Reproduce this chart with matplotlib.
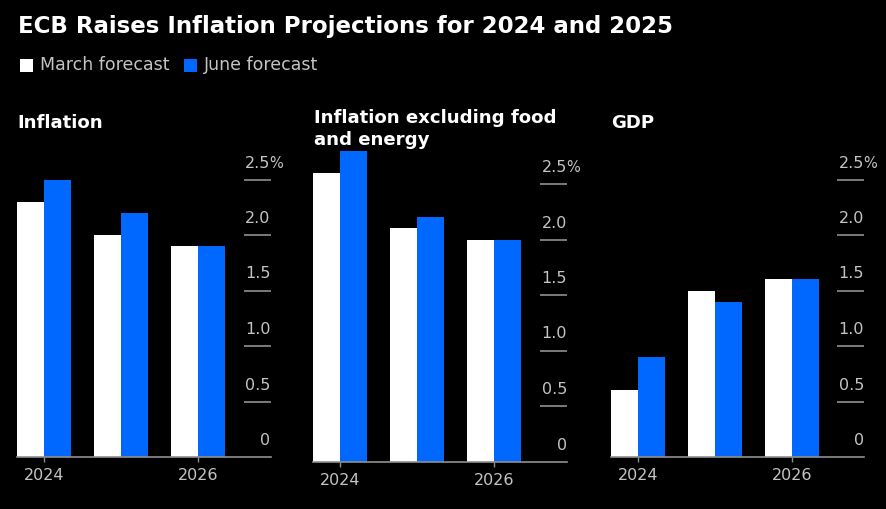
import matplotlib
matplotlib.use("Agg")
import matplotlib.pyplot as plt
from matplotlib.patches import Rectangle
from matplotlib.transforms import offset_copy

W, H = 886, 509
BG = "#000000"
WHITE = "#ffffff"
BLUE = "#0068ff"
GREY = "#8f8f8f"
LABEL = "#c4c4c4"

years = [2024, 2025, 2026]
panel_titles = ["Inflation", "Inflation excluding food\nand energy", "GDP"]
march_forecast = [[2.3, 2.0, 1.9], [2.6, 2.1, 2.0], [0.6, 1.5, 1.6]]
june_forecast = [[2.5, 2.2, 1.9], [2.8, 2.2, 2.0], [0.9, 1.4, 1.6]]
y_ticks = [0.5, 1.0, 1.5, 2.0, 2.5]
y_labels = ["0", "0.5", "1.0", "1.5", "2.0", "2.5"]
x_ticks = [2024, 2026]

plt.rcParams["font.family"] = "DejaVu Sans"
fig = plt.figure(figsize=(W / 100, H / 100), dpi=100, facecolor=BG)

# left, right, baseline in pixels; title position in pixels
panels = [(17, 270.5, 457.0, 17, 123), (313, 567, 461.5, 314, 129), (611, 864, 457.0, 611, 123)]
PX_PER_UNIT = 111.0
GROUP = 77.0
BAR = 27.0

for i, (l, r, base, tx, ty) in enumerate(panels):
    top = base - 3 * PX_PER_UNIT
    ax = fig.add_axes([l / W, 1 - base / H, (r - l) / W, (base - top) / H], facecolor="none")
    x0 = 2024 - BAR / GROUP
    ax.set_xlim(x0, x0 + (r - l) / GROUP)
    ax.set_ylim(0, 3)
    w = BAR / GROUP
    ax.bar([y - w / 2 for y in years], march_forecast[i], width=w, color=WHITE, linewidth=0)
    ax.bar([y + w / 2 for y in years], june_forecast[i], width=w, color=BLUE, linewidth=0)
    for s in ["top", "left", "right"]:
        ax.spines[s].set_visible(False)
    ax.spines["bottom"].set_color(GREY)
    ax.spines["bottom"].set_linewidth(1.2)
    ax.set_xticks(x_ticks, [str(t) for t in x_ticks])
    ax.tick_params(axis="x", colors=GREY, labelcolor=LABEL, length=3.5, width=1.0, pad=4.5, labelsize=11.5)
    ax.yaxis.tick_right()
    ax.set_yticks(y_ticks, [""] * len(y_ticks))
    ax.tick_params(axis="y", direction="in", colors=GREY, length=19.4, width=1.2, pad=0)
    tr = offset_copy(ax.get_yaxis_transform(), fig=fig, x=0, y=9, units="dots")
    for k, lab in enumerate(y_labels):
        ax.text(1, k * 0.5, lab, transform=tr, ha="right", va="bottom", color=LABEL, fontsize=11.5)
    ax.text(1.0, 2.5, "%", transform=offset_copy(ax.get_yaxis_transform(), fig=fig, x=-1, y=9, units="dots"),
            ha="left", va="bottom", color=LABEL, fontsize=10.5)
    fig.text(tx / W, 1 - ty / H, panel_titles[i], color=WHITE, fontsize=13.1, fontweight="bold",
             ha="left", va="center", linespacing=1.3)

fig.text(18 / W, 1 - 26 / H, "ECB Raises Inflation Projections for 2024 and 2025", color=WHITE,
         fontsize=16.5, fontweight="bold", ha="left", va="center")
for sx, col, tx, lab in [(20, WHITE, 40, "March forecast"), (184, BLUE, 204, "June forecast")]:
    fig.add_artist(Rectangle((sx / W, 1 - 72 / H), 13 / W, 13 / H, transform=fig.transFigure, color=col, lw=0))
    fig.text(tx / W, 1 - 65 / H, lab, color=LABEL, fontsize=12.5, ha="left", va="center")

fig.savefig("out.png", dpi=100, facecolor=BG)
